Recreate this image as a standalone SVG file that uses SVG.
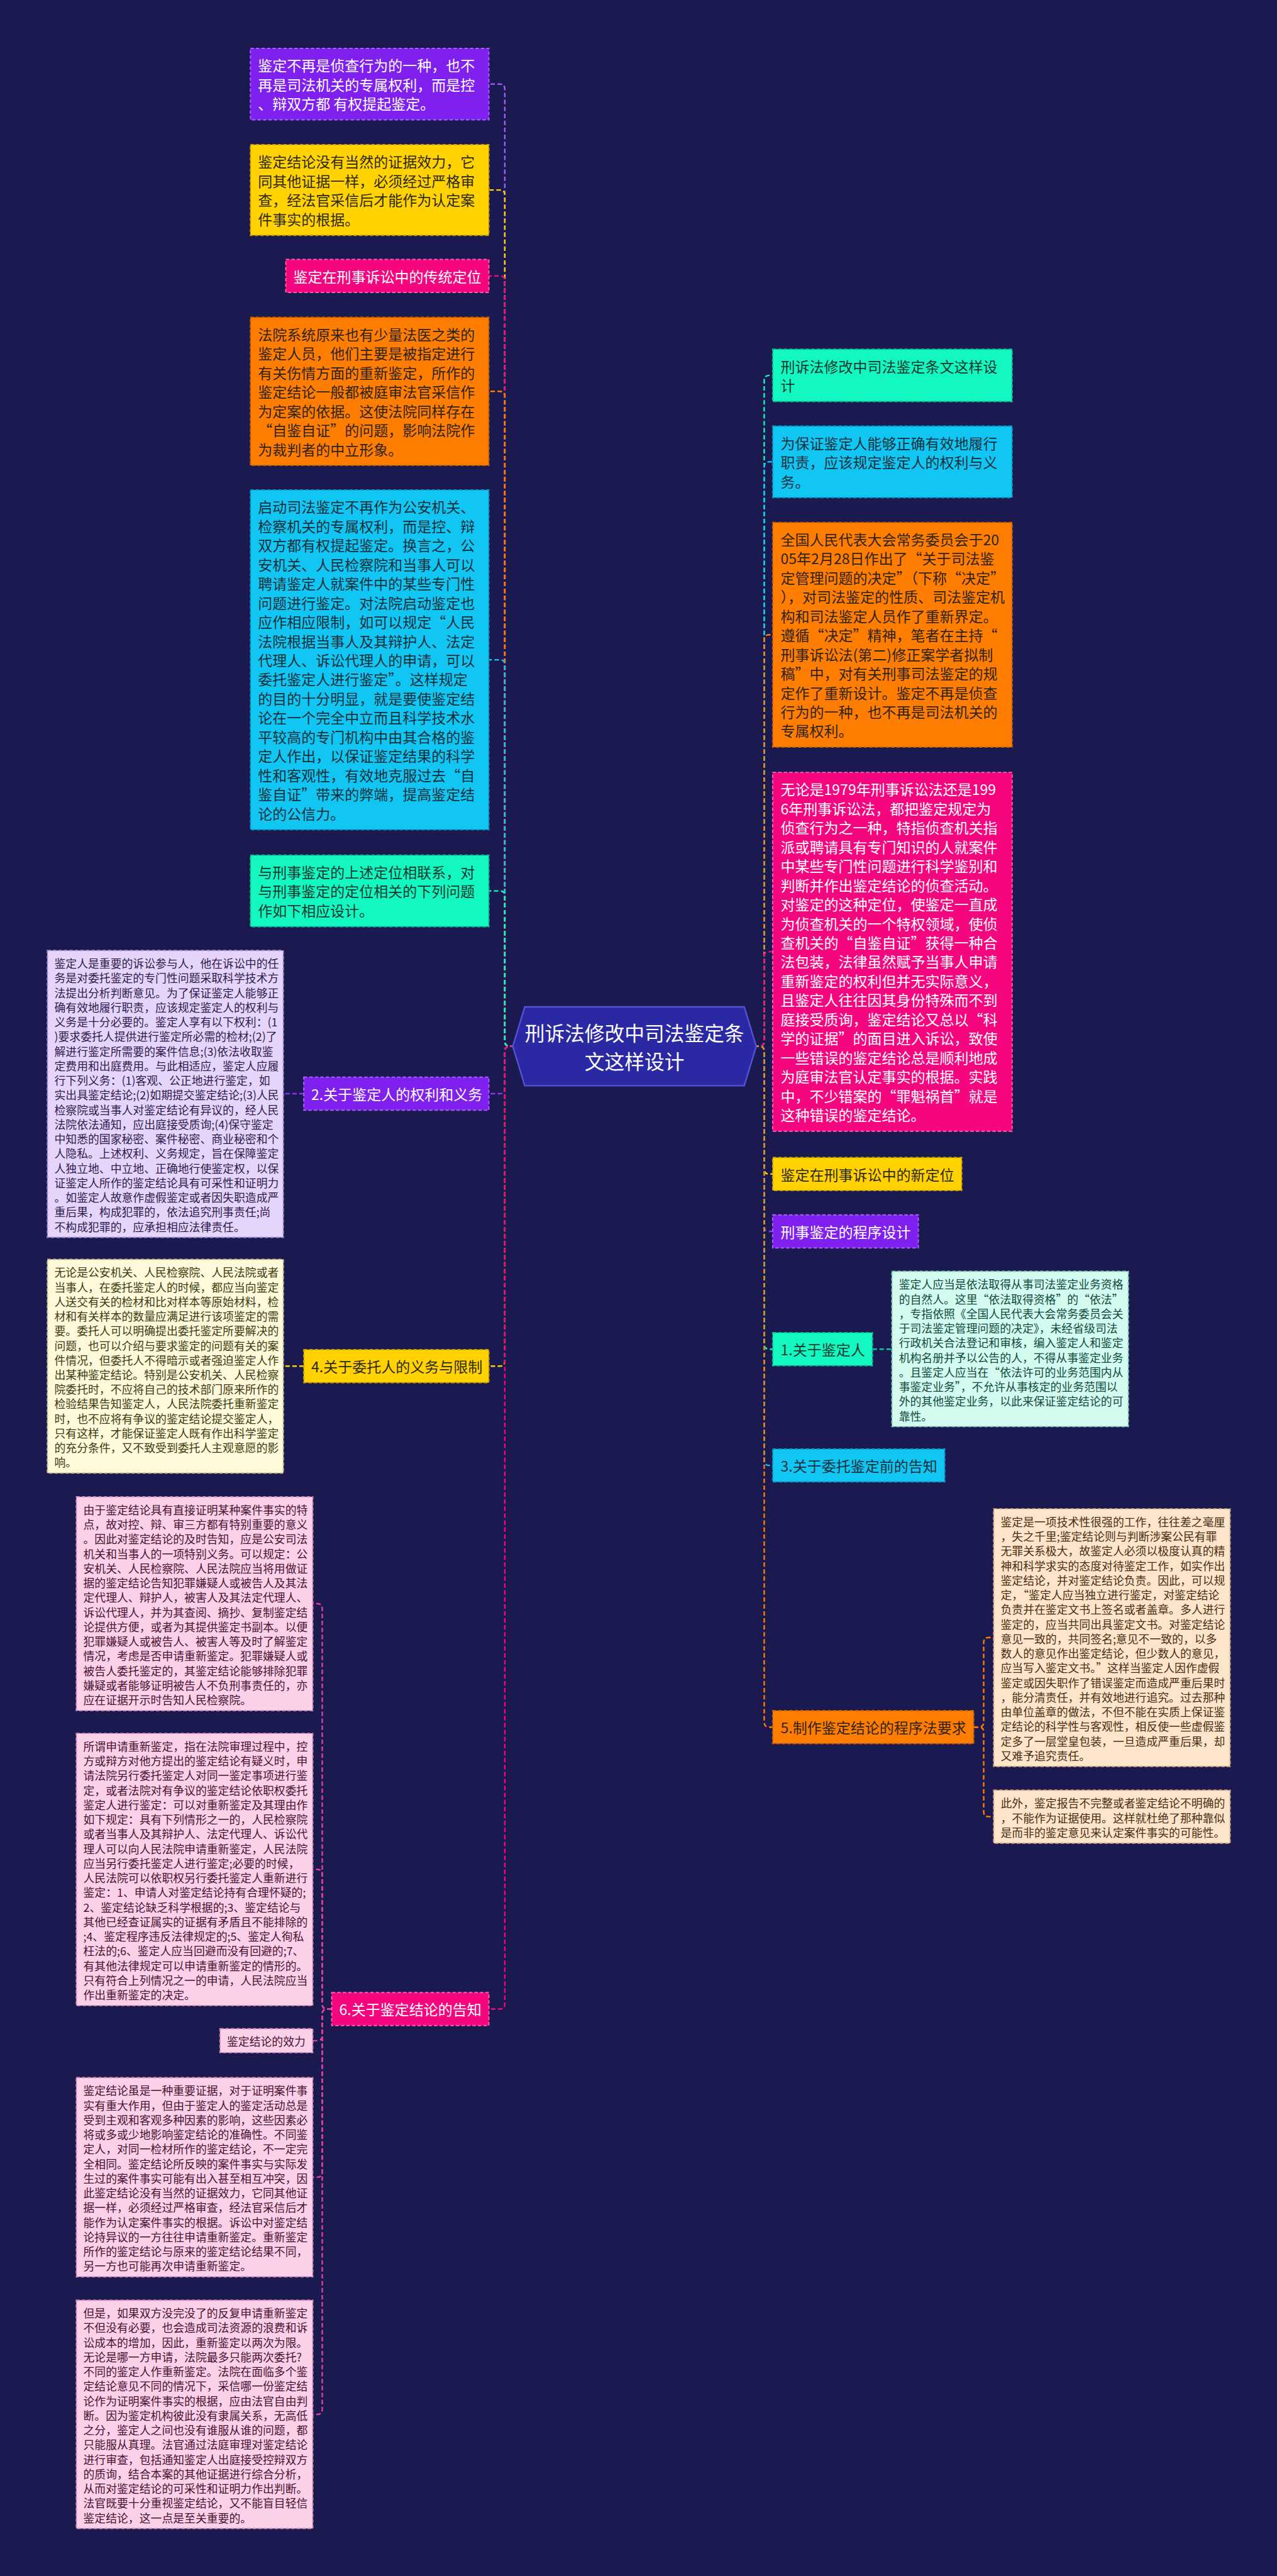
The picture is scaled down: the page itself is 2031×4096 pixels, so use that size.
<svg xmlns="http://www.w3.org/2000/svg" width="2031" height="4096" viewBox="0 0 2031 4096">
<style>
text{font-family:"Noto Sans CJK SC","Noto Sans",sans-serif;dominant-baseline:central}
.b{font-size:29px}
.s{font-size:22.5px}
.c{font-size:40px;fill:#ffffff}
.box{stroke-width:2.5;stroke-dasharray:7 4}
.cn{fill:none;stroke-width:3;stroke-dasharray:9 5}
.pu{fill:#7f20ef;stroke:#a75cff}.puT{fill:#ffffff}
.ye{fill:#ffd200;stroke:#c9a300}.yeT{fill:#2e2a1a}
.mg{fill:#f5067f;stroke:#ff5aad}.mgT{fill:#ffffff}
.or{fill:#ff7d00;stroke:#c85f00}.orT{fill:#2e2418}
.cy{fill:#12c6f3;stroke:#0a98bd}.cyT{fill:#16303c}
.te{fill:#13f7c0;stroke:#0bbf93}.teT{fill:#163a30}
.lpu{fill:#e6d5fb;stroke:#a88bd6}.lpuT{fill:#2e1a4d}
.lye{fill:#fdf9da;stroke:#c8bf85}.lyeT{fill:#3d3a10}
.lpk{fill:#fbd1ea;stroke:#d68bb5}.lpkT{fill:#4a1030}
.lte{fill:#d3fbf0;stroke:#82cdb8}.lteT{fill:#0f4a3c}
.lor{fill:#fde5cc;stroke:#d6ae86}.lorT{fill:#4a2d10}
</style>
<rect x="0" y="0" width="2031" height="4096" fill="#1b1a50"/>
<g transform="scale(0.79336)">
<g id="connectors">
<path class="cn" stroke="#a75cff" d="M1032 2097 H1022 Q1012 2097 1012 2087 V178.5 Q1012 168.5 1002 168.5 H980"/>
<path class="cn" stroke="#ffd200" d="M1032 2097 H1022 Q1012 2097 1012 2087 V390.8 Q1012 380.8 1002 380.8 H980"/>
<path class="cn" stroke="#f5067f" d="M1032 2097 H1022 Q1012 2097 1012 2087 V563 Q1012 553 1002 553 H980"/>
<path class="cn" stroke="#ff7d00" d="M1032 2097 H1022 Q1012 2097 1012 2087 V794.4 Q1012 784.4 1002 784.4 H980"/>
<path class="cn" stroke="#12c6f3" d="M1032 2097 H1022 Q1012 2097 1012 2087 V1332.4 Q1012 1322.4 1002 1322.4 H980"/>
<path class="cn" stroke="#13f7c0" d="M1032 2097 H1022 Q1012 2097 1012 2087 V1795.6 Q1012 1785.6 1002 1785.6 H980"/>
<path class="cn" stroke="#8a33f5" d="M1032 2097 H1022 Q1012 2097 1012 2107 V2182 Q1012 2192 1002 2192 H980"/>
<path class="cn" stroke="#ffd200" d="M1032 2097 H1022 Q1012 2097 1012 2107 V2728 Q1012 2738 1002 2738 H980"/>
<path class="cn" stroke="#f5067f" d="M1032 2097 H1022 Q1012 2097 1012 2107 V4016.5 Q1012 4026.5 1002 4026.5 H980"/>
<path class="cn" stroke="#13f7c0" d="M1512 2097 H1522 Q1532 2097 1532 2087 V762.4 Q1532 752.4 1542 752.4 H1549"/>
<path class="cn" stroke="#12c6f3" d="M1512 2097 H1522 Q1532 2097 1532 2087 V935.6 Q1532 925.6 1542 925.6 H1549"/>
<path class="cn" stroke="#ff7d00" d="M1512 2097 H1522 Q1532 2097 1532 2087 V1282.2 Q1532 1272.2 1542 1272.2 H1549"/>
<path class="cn" stroke="#f5067f" d="M1512 2097 H1522 Q1532 2097 1532 2087 V1917.6 Q1532 1907.6 1542 1907.6 H1549"/>
<path class="cn" stroke="#ffd200" d="M1512 2097 H1522 Q1532 2097 1532 2107 V2343 Q1532 2353 1542 2353 H1549"/>
<path class="cn" stroke="#8a33f5" d="M1512 2097 H1522 Q1532 2097 1532 2107 V2458 Q1532 2468 1542 2468 H1549"/>
<path class="cn" stroke="#13f7c0" d="M1512 2097 H1522 Q1532 2097 1532 2107 V2694 Q1532 2704 1542 2704 H1549"/>
<path class="cn" stroke="#12c6f3" d="M1512 2097 H1522 Q1532 2097 1532 2107 V2927 Q1532 2937 1542 2937 H1549"/>
<path class="cn" stroke="#ff7d00" d="M1512 2097 H1522 Q1532 2097 1532 2107 V3451.5 Q1532 3461.5 1542 3461.5 H1549"/>
<path class="cn" stroke="#8a33f5" d="M609 2192 H568"/>
<path class="cn" stroke="#ffd200" d="M609 2738 H568"/>
<path class="cn" stroke="#e0409a" d="M665 4026.5 H656 Q646 4026.5 646 4016.5 V3224.2 Q646 3214.2 636 3214.2 H627"/>
<path class="cn" stroke="#e0409a" d="M665 4026.5 H656 Q646 4026.5 646 4016.5 V3756.8 Q646 3746.8 636 3746.8 H627"/>
<path class="cn" stroke="#e0409a" d="M665 4026.5 H656 Q646 4026.5 646 4036.5 V4080 Q646 4090 636 4090 H627"/>
<path class="cn" stroke="#e0409a" d="M665 4026.5 H656 Q646 4026.5 646 4036.5 V4353.5 Q646 4363.5 636 4363.5 H627"/>
<path class="cn" stroke="#e0409a" d="M665 4026.5 H656 Q646 4026.5 646 4036.5 V4828.9 Q646 4838.9 636 4838.9 H627"/>
<path class="cn" stroke="#13c6a0" d="M1749 2704 H1788"/>
<path class="cn" stroke="#ff7d00" d="M1952 3461.5 H1962 Q1972 3461.5 1972 3451.5 V3292 Q1972 3282 1982 3282 H1992"/>
<path class="cn" stroke="#ff7d00" d="M1952 3461.5 H1962 Q1972 3461.5 1972 3471.5 V3631 Q1972 3641 1982 3641 H1992"/>
</g>
<g id="center">
<polygon points="1028,2097 1052,2018 1492,2018 1516,2097 1492,2176 1052,2176" fill="#2b28a3" stroke="#5552d6" stroke-width="3"/>
<text class="c" text-anchor="middle"><tspan x="1272" y="2069">刑诉法修改中司法鉴定条</tspan><tspan x="1272" y="2125">文这样设计</tspan></text>
</g>
<g id="nA"><rect class="box pu" x="502" y="97" width="478" height="143"/>
<text class="b puT"><tspan x="517" y="130">鉴定不再是侦查行为的一种，也不</tspan><tspan x="517" y="168.4">再是司法机关的专属权利，而是控</tspan><tspan x="517" y="206.8">、辩双方都 有权提起鉴定。</tspan></text></g>
<g id="nB"><rect class="box ye" x="502" y="290" width="478" height="181.6"/>
<text class="b yeT"><tspan x="517" y="323">鉴定结论没有当然的证据效力，它</tspan><tspan x="517" y="361.4">同其他证据一样，必须经过严格审</tspan><tspan x="517" y="399.8">查，经法官采信后才能作为认定案</tspan><tspan x="517" y="438.2">件事实的根据。</tspan></text></g>
<g id="nC"><rect class="box mg" x="573" y="520" width="407" height="66"/>
<text class="b mgT"><tspan x="588" y="553">鉴定在刑事诉讼中的传统定位</tspan></text></g>
<g id="nD"><rect class="box or" x="502" y="636" width="478" height="296.8"/>
<text class="b orT"><tspan x="517" y="669">法院系统原来也有少量法医之类的</tspan><tspan x="517" y="707.4">鉴定人员，他们主要是被指定进行</tspan><tspan x="517" y="745.8">有关伤情方面的重新鉴定，所作的</tspan><tspan x="517" y="784.2">鉴定结论一般都被庭审法官采信作</tspan><tspan x="517" y="822.6">为定案的依据。这使法院同样存在</tspan><tspan x="517" y="861">“自鉴自证”的问题，影响法院作</tspan><tspan x="517" y="899.4">为裁判者的中立形象。</tspan></text></g>
<g id="nE"><rect class="box cy" x="502" y="982" width="478" height="680.8"/>
<text class="b cyT"><tspan x="517" y="1015">启动司法鉴定不再作为公安机关、</tspan><tspan x="517" y="1053.4">检察机关的专属权利，而是控、辩</tspan><tspan x="517" y="1091.8">双方都有权提起鉴定。换言之，公</tspan><tspan x="517" y="1130.2">安机关、人民检察院和当事人可以</tspan><tspan x="517" y="1168.6">聘请鉴定人就案件中的某些专门性</tspan><tspan x="517" y="1207">问题进行鉴定。对法院启动鉴定也</tspan><tspan x="517" y="1245.4">应作相应限制，如可以规定“人民</tspan><tspan x="517" y="1283.8">法院根据当事人及其辩护人、法定</tspan><tspan x="517" y="1322.2">代理人、诉讼代理人的申请，可以</tspan><tspan x="517" y="1360.6">委托鉴定人进行鉴定”。这样规定</tspan><tspan x="517" y="1399">的目的十分明显，就是要使鉴定结</tspan><tspan x="517" y="1437.4">论在一个完全中立而且科学技术水</tspan><tspan x="517" y="1475.8">平较高的专门机构中由其合格的鉴</tspan><tspan x="517" y="1514.2">定人作出，以保证鉴定结果的科学</tspan><tspan x="517" y="1552.6">性和客观性，有效地克服过去“自</tspan><tspan x="517" y="1591">鉴自证”带来的弊端，提高鉴定结</tspan><tspan x="517" y="1629.4">论的公信力。</tspan></text></g>
<g id="nF"><rect class="box te" x="502" y="1714" width="478" height="143.2"/>
<text class="b teT"><tspan x="517" y="1747">与刑事鉴定的上述定位相联系，对</tspan><tspan x="517" y="1785.4">与刑事鉴定的定位相关的下列问题</tspan><tspan x="517" y="1823.8">作如下相应设计。</tspan></text></g>
<g id="n2"><rect class="box pu" x="609" y="2159" width="371" height="66"/>
<text class="b puT"><tspan x="624" y="2192">2.关于鉴定人的权利和义务</tspan></text></g>
<g id="n4"><rect class="box ye" x="609" y="2705" width="371" height="66"/>
<text class="b yeT"><tspan x="624" y="2738">4.关于委托人的义务与限制</tspan></text></g>
<g id="n6"><rect class="box mg" x="665" y="3993.5" width="315" height="66"/>
<text class="b mgT"><tspan x="680" y="4026.5">6.关于鉴定结论的告知</tspan></text></g>
<g id="nP"><rect class="box lpu" x="95" y="1905" width="473" height="574.9"/>
<text class="s lpuT"><tspan x="109" y="1930">鉴定人是重要的诉讼参与人，他在诉讼中的任</tspan><tspan x="109" y="1959.3">务是对委托鉴定的专门性问题采取科学技术方</tspan><tspan x="109" y="1988.6">法提出分析判断意见。为了保证鉴定人能够正</tspan><tspan x="109" y="2017.9">确有效地履行职责，应该规定鉴定人的权利与</tspan><tspan x="109" y="2047.2">义务是十分必要的。鉴定人享有以下权利：(1</tspan><tspan x="109" y="2076.5">)要求委托人提供进行鉴定所必需的检材;(2)了</tspan><tspan x="109" y="2105.8">解进行鉴定所需要的案件信息;(3)依法收取鉴</tspan><tspan x="109" y="2135.1">定费用和出庭费用。与此相适应，鉴定人应履</tspan><tspan x="109" y="2164.4">行下列义务：(1)客观、公正地进行鉴定，如</tspan><tspan x="109" y="2193.7">实出具鉴定结论;(2)如期提交鉴定结论;(3)人民</tspan><tspan x="109" y="2223">检察院或当事人对鉴定结论有异议的，经人民</tspan><tspan x="109" y="2252.3">法院依法通知，应出庭接受质询;(4)保守鉴定</tspan><tspan x="109" y="2281.6">中知悉的国家秘密、案件秘密、商业秘密和个</tspan><tspan x="109" y="2310.9">人隐私。上述权利、义务规定，旨在保障鉴定</tspan><tspan x="109" y="2340.2">人独立地、中立地、正确地行使鉴定权，以保</tspan><tspan x="109" y="2369.5">证鉴定人所作的鉴定结论具有可采性和证明力</tspan><tspan x="109" y="2398.8">。如鉴定人故意作虚假鉴定或者因失职造成严</tspan><tspan x="109" y="2428.1">重后果，构成犯罪的，依法追究刑事责任;尚</tspan><tspan x="109" y="2457.4">不构成犯罪的，应承担相应法律责任。</tspan></text></g>
<g id="nQ"><rect class="box lye" x="95" y="2524" width="473" height="428.4"/>
<text class="s lyeT"><tspan x="109" y="2549">无论是公安机关、人民检察院、人民法院或者</tspan><tspan x="109" y="2578.3">当事人，在委托鉴定人的时候，都应当向鉴定</tspan><tspan x="109" y="2607.6">人送交有关的检材和比对样本等原始材料，检</tspan><tspan x="109" y="2636.9">材和有关样本的数量应满足进行该项鉴定的需</tspan><tspan x="109" y="2666.2">要。委托人可以明确提出委托鉴定所要解决的</tspan><tspan x="109" y="2695.5">问题，也可以介绍与要求鉴定的问题有关的案</tspan><tspan x="109" y="2724.8">件情况，但委托人不得暗示或者强迫鉴定人作</tspan><tspan x="109" y="2754.1">出某种鉴定结论。特别是公安机关、人民检察</tspan><tspan x="109" y="2783.4">院委托时，不应将自己的技术部门原来所作的</tspan><tspan x="109" y="2812.7">检验结果告知鉴定人，人民法院委托重新鉴定</tspan><tspan x="109" y="2842">时，也不应将有争议的鉴定结论提交鉴定人，</tspan><tspan x="109" y="2871.3">只有这样，才能保证鉴定人既有作出科学鉴定</tspan><tspan x="109" y="2900.6">的充分条件，又不致受到委托人主观意愿的影</tspan><tspan x="109" y="2929.9">响。</tspan></text></g>
<g id="nR1"><rect class="box lpk" x="153" y="3000" width="474" height="428.4"/>
<text class="s lpkT"><tspan x="167" y="3025">由于鉴定结论具有直接证明某种案件事实的特</tspan><tspan x="167" y="3054.3">点，故对控、辩、审三方都有特别重要的意义</tspan><tspan x="167" y="3083.6">。因此对鉴定结论的及时告知，应是公安司法</tspan><tspan x="167" y="3112.9">机关和当事人的一项特别义务。可以规定：公</tspan><tspan x="167" y="3142.2">安机关、人民检察院、人民法院应当将用做证</tspan><tspan x="167" y="3171.5">据的鉴定结论告知犯罪嫌疑人或被告人及其法</tspan><tspan x="167" y="3200.8">定代理人、辩护人，被害人及其法定代理人、</tspan><tspan x="167" y="3230.1">诉讼代理人，并为其查阅、摘抄、复制鉴定结</tspan><tspan x="167" y="3259.4">论提供方便，或者为其提供鉴定书副本。以便</tspan><tspan x="167" y="3288.7">犯罪嫌疑人或被告人、被害人等及时了解鉴定</tspan><tspan x="167" y="3318">情况，考虑是否申请重新鉴定。犯罪嫌疑人或</tspan><tspan x="167" y="3347.3">被告人委托鉴定的，其鉴定结论能够排除犯罪</tspan><tspan x="167" y="3376.6">嫌疑或者能够证明被告人不负刑事责任的，亦</tspan><tspan x="167" y="3405.9">应在证据开示时告知人民检察院。</tspan></text></g>
<g id="nR2"><rect class="box lpk" x="153" y="3474" width="474" height="545.6"/>
<text class="s lpkT"><tspan x="167" y="3499">所谓申请重新鉴定，指在法院审理过程中，控</tspan><tspan x="167" y="3528.3">方或辩方对他方提出的鉴定结论有疑义时，申</tspan><tspan x="167" y="3557.6">请法院另行委托鉴定人对同一鉴定事项进行鉴</tspan><tspan x="167" y="3586.9">定，或者法院对有争议的鉴定结论依职权委托</tspan><tspan x="167" y="3616.2">鉴定人进行鉴定：可以对重新鉴定及其理由作</tspan><tspan x="167" y="3645.5">如下规定：具有下列情形之一的，人民检察院</tspan><tspan x="167" y="3674.8">或者当事人及其辩护人、法定代理人、诉讼代</tspan><tspan x="167" y="3704.1">理人可以向人民法院申请重新鉴定，人民法院</tspan><tspan x="167" y="3733.4">应当另行委托鉴定人进行鉴定;必要的时候，</tspan><tspan x="167" y="3762.7">人民法院可以依职权另行委托鉴定人重新进行</tspan><tspan x="167" y="3792">鉴定：1、申请人对鉴定结论持有合理怀疑的;</tspan><tspan x="167" y="3821.3">2、鉴定结论缺乏科学根据的;3、鉴定结论与</tspan><tspan x="167" y="3850.6">其他已经查证属实的证据有矛盾且不能排除的</tspan><tspan x="167" y="3879.9">;4、鉴定程序违反法律规定的;5、鉴定人徇私</tspan><tspan x="167" y="3909.2">枉法的;6、鉴定人应当回避而没有回避的;7、</tspan><tspan x="167" y="3938.5">有其他法律规定可以申请重新鉴定的情形的。</tspan><tspan x="167" y="3967.8">只有符合上列情况之一的申请，人民法院应当</tspan><tspan x="167" y="3997.1">作出重新鉴定的决定。</tspan></text></g>
<g id="nX"><rect class="box lpk" x="441" y="4066" width="186" height="48"/>
<text class="s lpkT"><tspan x="455" y="4090">鉴定结论的效力</tspan></text></g>
<g id="nR3"><rect class="box lpk" x="153" y="4164" width="474" height="399.1"/>
<text class="s lpkT"><tspan x="167" y="4189">鉴定结论虽是一种重要证据，对于证明案件事</tspan><tspan x="167" y="4218.3">实有重大作用，但由于鉴定人的鉴定活动总是</tspan><tspan x="167" y="4247.6">受到主观和客观多种因素的影响，这些因素必</tspan><tspan x="167" y="4276.9">将或多或少地影响鉴定结论的准确性。不同鉴</tspan><tspan x="167" y="4306.2">定人，对同一检材所作的鉴定结论，不一定完</tspan><tspan x="167" y="4335.5">全相同。鉴定结论所反映的案件事实与实际发</tspan><tspan x="167" y="4364.8">生过的案件事实可能有出入甚至相互冲突，因</tspan><tspan x="167" y="4394.1">此鉴定结论没有当然的证据效力，它同其他证</tspan><tspan x="167" y="4423.4">据一样，必须经过严格审查，经法官采信后才</tspan><tspan x="167" y="4452.7">能作为认定案件事实的根据。诉讼中对鉴定结</tspan><tspan x="167" y="4482">论持异议的一方往往申请重新鉴定。重新鉴定</tspan><tspan x="167" y="4511.3">所作的鉴定结论与原来的鉴定结论结果不同，</tspan><tspan x="167" y="4540.6">另一方也可能再次申请重新鉴定。</tspan></text></g>
<g id="nR4"><rect class="box lpk" x="153" y="4610" width="474" height="457.7"/>
<text class="s lpkT"><tspan x="167" y="4635">但是，如果双方没完没了的反复申请重新鉴定</tspan><tspan x="167" y="4664.3">不但没有必要，也会造成司法资源的浪费和诉</tspan><tspan x="167" y="4693.6">讼成本的增加，因此，重新鉴定以两次为限。</tspan><tspan x="167" y="4722.9">无论是哪一方申请，法院最多只能两次委托?</tspan><tspan x="167" y="4752.2">不同的鉴定人作重新鉴定。法院在面临多个鉴</tspan><tspan x="167" y="4781.5">定结论意见不同的情况下，采信哪一份鉴定结</tspan><tspan x="167" y="4810.8">论作为证明案件事实的根据，应由法官自由判</tspan><tspan x="167" y="4840.1">断。因为鉴定机构彼此没有隶属关系，无高低</tspan><tspan x="167" y="4869.4">之分，鉴定人之间也没有谁服从谁的问题，都</tspan><tspan x="167" y="4898.7">只能服从真理。法官通过法庭审理对鉴定结论</tspan><tspan x="167" y="4928">进行审查，包括通知鉴定人出庭接受控辩双方</tspan><tspan x="167" y="4957.3">的质询，结合本案的其他证据进行综合分析，</tspan><tspan x="167" y="4986.6">从而对鉴定结论的可采性和证明力作出判断。</tspan><tspan x="167" y="5015.9">法官既要十分重视鉴定结论，又不能盲目轻信</tspan><tspan x="167" y="5045.2">鉴定结论，这一点是至关重要的。</tspan></text></g>
<g id="nG"><rect class="box te" x="1549" y="700" width="480" height="104.8"/>
<text class="b teT"><tspan x="1565" y="733">刑诉法修改中司法鉴定条文这样设</tspan><tspan x="1565" y="771.4">计</tspan></text></g>
<g id="nH"><rect class="box cy" x="1549" y="854" width="480" height="143.2"/>
<text class="b cyT"><tspan x="1565" y="887">为保证鉴定人能够正确有效地履行</tspan><tspan x="1565" y="925.4">职责，应该规定鉴定人的权利与义</tspan><tspan x="1565" y="963.8">务。</tspan></text></g>
<g id="nI"><rect class="box or" x="1549" y="1047" width="480" height="450.4"/>
<text class="b orT"><tspan x="1565" y="1080">全国人民代表大会常务委员会于20</tspan><tspan x="1565" y="1118.4">05年2月28日作出了“关于司法鉴</tspan><tspan x="1565" y="1156.8">定管理问题的决定”（下称“决定”</tspan><tspan x="1565" y="1195.2">），对司法鉴定的性质、司法鉴定机</tspan><tspan x="1565" y="1233.6">构和司法鉴定人员作了重新界定。</tspan><tspan x="1565" y="1272">遵循“决定”精神，笔者在主持“</tspan><tspan x="1565" y="1310.4">刑事诉讼法(第二)修正案学者拟制</tspan><tspan x="1565" y="1348.8">稿”中，对有关刑事司法鉴定的规</tspan><tspan x="1565" y="1387.2">定作了重新设计。鉴定不再是侦查</tspan><tspan x="1565" y="1425.6">行为的一种，也不再是司法机关的</tspan><tspan x="1565" y="1464">专属权利。</tspan></text></g>
<g id="nJ"><rect class="box mg" x="1549" y="1548" width="480" height="719.2"/>
<text class="b mgT"><tspan x="1565" y="1581">无论是1979年刑事诉讼法还是199</tspan><tspan x="1565" y="1619.4">6年刑事诉讼法，都把鉴定规定为</tspan><tspan x="1565" y="1657.8">侦查行为之一种，特指侦查机关指</tspan><tspan x="1565" y="1696.2">派或聘请具有专门知识的人就案件</tspan><tspan x="1565" y="1734.6">中某些专门性问题进行科学鉴别和</tspan><tspan x="1565" y="1773">判断并作出鉴定结论的侦查活动。</tspan><tspan x="1565" y="1811.4">对鉴定的这种定位，使鉴定一直成</tspan><tspan x="1565" y="1849.8">为侦查机关的一个特权领域，使侦</tspan><tspan x="1565" y="1888.2">查机关的“自鉴自证”获得一种合</tspan><tspan x="1565" y="1926.6">法包装，法律虽然赋予当事人申请</tspan><tspan x="1565" y="1965">重新鉴定的权利但并无实际意义，</tspan><tspan x="1565" y="2003.4">且鉴定人往往因其身份特殊而不到</tspan><tspan x="1565" y="2041.8">庭接受质询，鉴定结论又总以“科</tspan><tspan x="1565" y="2080.2">学的证据”的面目进入诉讼，致使</tspan><tspan x="1565" y="2118.6">一些错误的鉴定结论总是顺利地成</tspan><tspan x="1565" y="2157">为庭审法官认定事实的根据。实践</tspan><tspan x="1565" y="2195.4">中，不少错案的“罪魁祸首”就是</tspan><tspan x="1565" y="2233.8">这种错误的鉴定结论。</tspan></text></g>
<g id="nK"><rect class="box ye" x="1549" y="2320" width="379" height="66"/>
<text class="b yeT"><tspan x="1565" y="2353">鉴定在刑事诉讼中的新定位</tspan></text></g>
<g id="nL"><rect class="box pu" x="1549" y="2435" width="292" height="66"/>
<text class="b puT"><tspan x="1565" y="2468">刑事鉴定的程序设计</tspan></text></g>
<g id="nM"><rect class="box te" x="1549" y="2671" width="200" height="66"/>
<text class="b teT"><tspan x="1565" y="2704">1.关于鉴定人</tspan></text></g>
<g id="nN"><rect class="box cy" x="1549" y="2904" width="345" height="66"/>
<text class="b cyT"><tspan x="1565" y="2937">3.关于委托鉴定前的告知</tspan></text></g>
<g id="nO"><rect class="box or" x="1549" y="3428.5" width="403" height="66"/>
<text class="b orT"><tspan x="1565" y="3461.5">5.制作鉴定结论的程序法要求</tspan></text></g>
<g id="nS"><rect class="box lte" x="1788" y="2548" width="474" height="311.2"/>
<text class="s lteT"><tspan x="1802" y="2573">鉴定人应当是依法取得从事司法鉴定业务资格</tspan><tspan x="1802" y="2602.3">的自然人。这里“依法取得资格”的“依法”</tspan><tspan x="1802" y="2631.6">，专指依照《全国人民代表大会常务委员会关</tspan><tspan x="1802" y="2660.9">于司法鉴定管理问题的决定》，未经省级司法</tspan><tspan x="1802" y="2690.2">行政机关合法登记和审核，编入鉴定人和鉴定</tspan><tspan x="1802" y="2719.5">机构名册并予以公告的人，不得从事鉴定业务</tspan><tspan x="1802" y="2748.8">。且鉴定人应当在“依法许可的业务范围内从</tspan><tspan x="1802" y="2778.1">事鉴定业务”，不允许从事核定的业务范围以</tspan><tspan x="1802" y="2807.4">外的其他鉴定业务，以此来保证鉴定结论的可</tspan><tspan x="1802" y="2836.7">靠性。</tspan></text></g>
<g id="nT1"><rect class="box lor" x="1992" y="3024" width="474" height="516.3"/>
<text class="s lorT"><tspan x="2006" y="3049">鉴定是一项技术性很强的工作，往往差之毫厘</tspan><tspan x="2006" y="3078.3">，失之千里;鉴定结论则与判断涉案公民有罪</tspan><tspan x="2006" y="3107.6">无罪关系极大，故鉴定人必须以极度认真的精</tspan><tspan x="2006" y="3136.9">神和科学求实的态度对待鉴定工作，如实作出</tspan><tspan x="2006" y="3166.2">鉴定结论，并对鉴定结论负责。因此，可以规</tspan><tspan x="2006" y="3195.5">定，“鉴定人应当独立进行鉴定，对鉴定结论</tspan><tspan x="2006" y="3224.8">负责并在鉴定文书上签名或者盖章。多人进行</tspan><tspan x="2006" y="3254.1">鉴定的，应当共同出具鉴定文书。对鉴定结论</tspan><tspan x="2006" y="3283.4">意见一致的，共同签名;意见不一致的，以多</tspan><tspan x="2006" y="3312.7">数人的意见作出鉴定结论，但少数人的意见，</tspan><tspan x="2006" y="3342">应当写入鉴定文书。”这样当鉴定人因作虚假</tspan><tspan x="2006" y="3371.3">鉴定或因失职作了错误鉴定而造成严重后果时</tspan><tspan x="2006" y="3400.6">，能分清责任，并有效地进行追究。过去那种</tspan><tspan x="2006" y="3429.9">由单位盖章的做法，不但不能在实质上保证鉴</tspan><tspan x="2006" y="3459.2">定结论的科学性与客观性，相反使一些虚假鉴</tspan><tspan x="2006" y="3488.5">定多了一层堂皇包装，一旦造成严重后果，却</tspan><tspan x="2006" y="3517.8">又难予追究责任。</tspan></text></g>
<g id="nT2"><rect class="box lor" x="1992" y="3588" width="474" height="106.1"/>
<text class="s lorT"><tspan x="2006" y="3613">此外，鉴定报告不完整或者鉴定结论不明确的</tspan><tspan x="2006" y="3642.3">，不能作为证据使用。这样就杜绝了那种靠似</tspan><tspan x="2006" y="3671.6">是而非的鉴定意见来认定案件事实的可能性。</tspan></text></g>
</g>
</svg>
